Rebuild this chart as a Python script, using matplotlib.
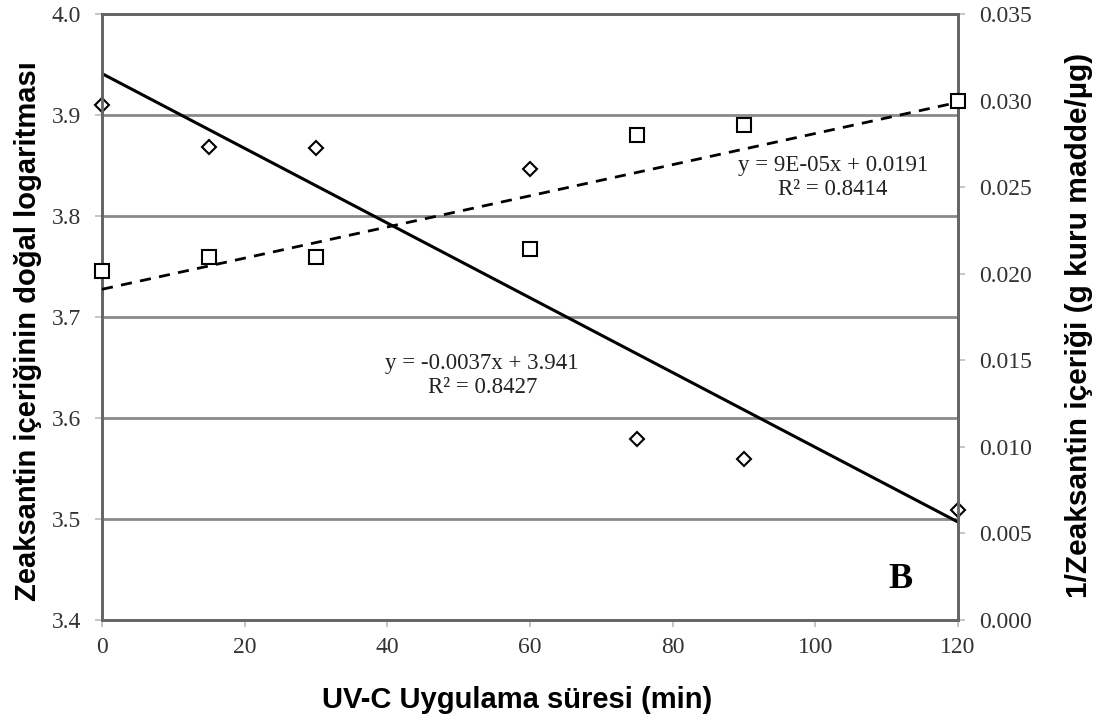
import matplotlib
matplotlib.use("Agg")
import matplotlib.pyplot as plt
import numpy as np

# Exposure time (min)
uv_time = [0, 15, 30, 60, 75, 90, 120]
# ln(zeaxanthin content) - left axis
ln_zea = [3.910, 3.868, 3.867, 3.847, 3.579, 3.559, 3.509]
# 1/zeaxanthin content - right axis
inv_zea = [0.02015, 0.02096, 0.02096, 0.02142, 0.02800, 0.02858, 0.02997]

# Linear fits as reported on the chart
fit_ln = (-0.0037, 3.941)
fit_inv = (9e-05, 0.0191)

x_ticks = [0, 20, 40, 60, 80, 100, 120]
left_ticks = [3.4, 3.5, 3.6, 3.7, 3.8, 3.9, 4.0]
right_ticks = [0.000, 0.005, 0.010, 0.015, 0.020, 0.025, 0.030, 0.035]

serif = ["Liberation Serif", "DejaVu Serif"]
label_font = ["Liberation Sans", "DejaVu Sans"]

W, H = 1106, 721
fig = plt.figure(figsize=(W / 100, H / 100), dpi=100)
ax = fig.add_axes([102 / W, 1 - 620 / H, 856 / W, 606 / H])
ax2 = ax.twinx()

grid_c = "#8a8a8a"
ax.set_xlim(0, 120)
ax.set_ylim(3.4, 4.0)
ax2.set_ylim(0.0, 0.035)

for v in left_ticks[1:-1]:
    ax.axhline(v, color=grid_c, lw=2.0, zorder=1)

# trend lines
xl = np.array([0, 120])
ax.plot(xl, fit_ln[0] * xl + fit_ln[1], color="black", lw=2.2, zorder=3)
ax2.plot(xl, fit_inv[0] * xl + fit_inv[1], color="black", lw=2.0,
         ls=(0, (4, 3)), zorder=3)

# data points
ax.plot(uv_time, ln_zea, ls="none", marker="D", ms=7, mfc="white",
        mec="black", mew=1.5, zorder=4, clip_on=False)
ax2.plot(uv_time, inv_zea, ls="none", marker="s", ms=10, mfc="white",
         mec="black", mew=1.5, zorder=4, clip_on=False)

for a in (ax, ax2):
    for s in a.spines.values():
        s.set_color("#666666")
        s.set_linewidth(2.0)

tick_fs = 17
ax.set_xticks(x_ticks)
ax.set_xticklabels([str(t) for t in x_ticks], family=serif, fontsize=tick_fs,
                   color="#333333")
ax.set_yticks(left_ticks)
ax.set_yticklabels([f"{t:.1f}" for t in left_ticks], family=serif,
                   fontsize=tick_fs, color="#333333")
ax2.set_yticks(right_ticks)
ax2.set_yticklabels([f"{t:.3f}" for t in right_ticks], family=serif,
                    fontsize=tick_fs, color="#333333")
ax.tick_params(axis="x", length=5, width=1.2, color="#bbbbbb", pad=7)
ax.tick_params(axis="y", length=5, width=1.2, color="#bbbbbb", pad=10)
ax2.tick_params(axis="y", length=5, width=1.2, color="#bbbbbb", pad=10)

# axis titles
fig.text(517 / W, 1 - 700 / H, "UV-C Uygulama süresi (min)",
         family=label_font, fontweight="bold", fontsize=21,
         ha="center", va="center")
fig.text(28 / W, 1 - 331 / H, "Zeaksantin içeriğinin doğal logaritması",
         family=label_font, fontweight="bold", fontsize=21,
         rotation=90, ha="center", va="center")
fig.text(1079 / W, 1 - 325 / H, "1/Zeaksantin içeriği (g kuru madde/µg)",
         family=label_font, fontweight="bold", fontsize=21.5,
         rotation=90, ha="center", va="center")

ax.text(53.3, 3.642, "y = -0.0037x + 3.941\nR² = 0.8427", family=serif,
        fontsize=16.5, ha="center", va="center", color="#222222",
        linespacing=1.15)
ax.text(102.5, 3.838, "y = 9E-05x + 0.0191\nR² = 0.8414", family=serif,
        fontsize=16.5, ha="center", va="center", color="#222222",
        linespacing=1.15)
ax.text(112, 3.44, "B", family=serif, fontsize=26, fontweight="bold",
        ha="center", va="center")

fig.savefig("out.png", dpi=100)
